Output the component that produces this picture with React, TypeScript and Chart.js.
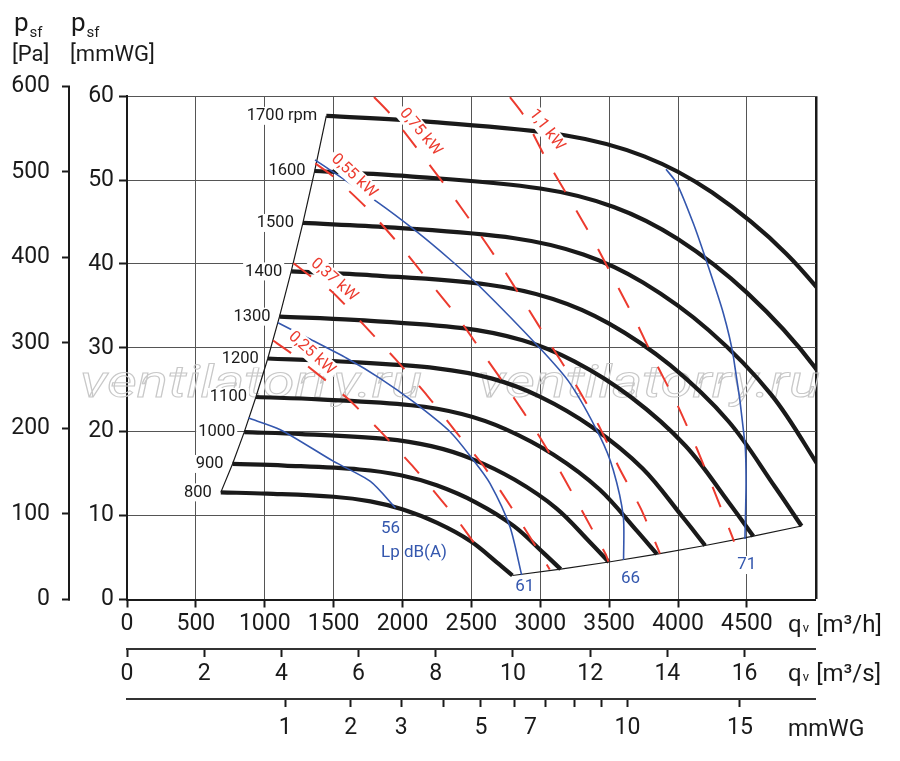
import { useEffect, useRef } from 'react'
import { Chart, registerables } from 'chart.js'

Chart.register(...registerables)

const FONT = 'Roboto, "DejaVu Sans", sans-serif'
const INK = '#1a1a1a'
const GRID = '#555555'
const RED = '#ec3b2f'
const BLUE = '#3457ae'

const PA_PER_MMWG = 9.80665
const M3H_PER_UNIT = 280.2 // second flow scale, one unit in m3/h
const DYN_M3H = 1149 // m3/h per sqrt(mmWG) on the dynamic pressure scale

// fan speed curves: q in m3/h, p in mmWG
const rpmLabels = ['800', '900', '1000', '1100', '1200', '1300', '1400', '1500', '1600', '1700 rpm']
const speedQ = [
  [681, 1016, 1500, 1767, 1998, 2252, 2495, 2689, 2798],
  [766, 1143, 1688, 1988, 2248, 2534, 2807, 3025, 3148],
  [851, 1270, 1875, 2209, 2498, 2815, 3119, 3361, 3498],
  [936, 1397, 2063, 2430, 2747, 3097, 3431, 3697, 3847],
  [1022, 1524, 2250, 2651, 2997, 3378, 3743, 4034, 4197],
  [1107, 1651, 2438, 2871, 3247, 3660, 4054, 4370, 4547],
  [1192, 1778, 2625, 3092, 3497, 3941, 4366, 4706, 4897],
  [1277, 1905, 2813, 3313, 3746, 4223, 4678, 5042],
  [1362, 2032, 3000, 3534, 3996, 4504, 4990, 5378],
  [1447, 2159, 3188, 3755, 4246, 4786, 5302],
]
const speedP = [
  [12.77, 12.62, 12.25, 11.7, 10.75, 9.13, 6.94, 4.37, 2.86],
  [16.16, 15.97, 15.5, 14.81, 13.61, 11.56, 8.78, 5.53, 3.62],
  [19.95, 19.72, 19.14, 18.28, 16.8, 14.27, 10.84, 6.83, 4.47],
  [24.14, 23.86, 23.16, 22.12, 20.32, 17.26, 13.12, 8.26, 5.41],
  [28.73, 28.4, 27.56, 26.33, 24.19, 20.54, 15.62, 9.83, 6.44],
  [33.72, 33.33, 32.35, 30.9, 28.39, 24.11, 18.33, 11.54, 7.55],
  [39.11, 38.65, 37.52, 35.83, 32.92, 27.96, 21.25, 13.38, 8.76],
  [44.89, 44.37, 43.07, 41.13, 37.79, 32.1, 24.4, 15.36],
  [51.08, 50.48, 49.0, 46.8, 43.0, 36.52, 27.76, 17.48],
  [57.66, 56.99, 55.32, 52.83, 48.54, 41.23, 31.34],
]
const lowerEdgeCount = 7 // curves 800..1400 end on the lower boundary

// shaft power lines
const powerLabels = ['0,25 kW', '0,37 kW', '0,55 kW', '0,75 kW', '1,1 kW']
const powerQ = [
  [1060, 1191, 1598, 1840, 2071, 2289, 2393, 2538],
  [1209, 1336, 1489, 1719, 1949, 2175, 2385, 2591, 2785, 2967, 3069],
  [1367, 1500, 1743, 1973, 2184, 2398, 2591, 2785, 2975, 3149, 3314, 3476, 3495],
  [1793, 1908, 2119, 2325, 2524, 2713, 2895, 3076, 3258, 3428, 3573, 3731, 3869],
  [2780, 2871, 3040, 3210, 3380, 3537, 3695, 3840, 3998, 4138, 4264, 4391, 4407],
]
const powerP = [
  [30.87, 29.37, 24.01, 20.04, 15.95, 11.7, 9.61, 6.31],
  [40.08, 38.49, 36.7, 32.74, 28.65, 24.4, 20.04, 15.87, 11.11, 6.35, 3.57],
  [51.99, 50.39, 46.63, 42.38, 38.1, 33.73, 29.17, 24.61, 19.92, 15.15, 10.24, 5.36, 4.52],
  [59.9, 57.94, 53.49, 49.01, 44.44, 39.88, 35.12, 30.36, 25.6, 20.63, 15.68, 10.8, 5.48],
  [59.9, 57.94, 52.58, 47.82, 43.0, 38.1, 33.13, 28.18, 23.1, 17.94, 12.89, 7.62, 6.9],
]
const powerLabelQ = [1341, 1503, 1648, 2131, 3047]
const powerLabelP = [29.35, 38.09, 50.49, 55.73, 55.97]
const powerLabelTilt = [42, 41, 43, 50, 52]

// sound pressure lines Lp dB(A)
const soundLabels = ['56', '61', '66', '71']
const soundQ = [
  [882, 1113, 1500, 1767, 1949],
  [1096, 1316, 1595, 1837, 2078, 2345, 2514, 2635, 2780, 2865],
  [1365, 1813, 2103, 2345, 2563, 2998, 3216, 3434, 3530, 3603, 3605],
  [3913, 3991, 4111, 4208, 4329, 4402, 4486, 4494, 4486],
]
const soundP = [
  [21.63, 20.24, 16.46, 14.08, 10.92],
  [33.0, 31.14, 28.76, 26.37, 23.58, 20.0, 16.63, 13.85, 8.68, 2.92],
  [52.41, 47.43, 43.85, 40.53, 37.29, 29.95, 25.77, 19.41, 15.44, 9.87, 4.71],
  [51.29, 49.62, 44.85, 40.27, 34.12, 28.95, 18.62, 13.85, 7.21],
]
const soundLabelQ = [1844, 2887, 3655, 4499]
const soundLabelP = [8.49, 1.53, 2.53, 4.11]

// axis ticks
const paTicks = [0, 100, 200, 300, 400, 500, 600]
const dynTicks = [1, 2, 3, 4, 5, 6, 6.5, 7, 8, 9, 10, 15]
const dynLabels = ['1', '2', '3', '', '5', '', '7', '', '', '', '10', '15']

const tickFont = { family: FONT, size: 23 }

function subText(ctx: CanvasRenderingContext2D, x: number, y: number, main: string, sub: string, rest: string, size: number, subSize: number, subDrop: number) {
  ctx.font = `${size}px ${FONT}`
  ctx.fillText(main, x, y)
  let cx = x + ctx.measureText(main).width + 1
  ctx.font = `${subSize}px ${FONT}`
  ctx.fillText(sub, cx, y + subDrop)
  cx += ctx.measureText(sub).width
  if (rest) {
    ctx.font = `${size}px ${FONT}`
    ctx.fillText(rest, cx + size * 0.3, y)
  }
}

const overlay = {
  id: 'overlay',
  beforeDatasetsDraw(chart: any) {
    const { ctx } = chart
    ctx.save()
    ctx.strokeStyle = '#c8c8c8'
    ctx.lineWidth = 1
    ctx.font = `italic 45px ${FONT}`
    const text = 'ventilatorry.ru'
    const w = ctx.measureText(text).width
    for (const left of [80, 478]) {
      ctx.save()
      ctx.translate(left, 397)
      ctx.scale(342 / w, 1)
      ctx.strokeText(text, 0, 0)
      ctx.restore()
    }
    ctx.restore()
  },
  afterDatasetsDraw(chart: any) {
    const { ctx } = chart
    const { x, y } = chart.scales
    ctx.save()
    ctx.textBaseline = 'middle'

    ctx.font = `16.5px ${FONT}`
    rpmLabels.forEach((label, i) => {
      const px = x.getPixelForValue(speedQ[i][0]) - 9
      const py = y.getPixelForValue(speedP[i][0])
      const w = ctx.measureText(label).width
      ctx.fillStyle = '#fff'
      ctx.fillRect(px - w - 2, py - 9, w + 4, 18)
      ctx.fillStyle = INK
      ctx.textAlign = 'right'
      ctx.fillText(label, px, py)
    })

    ctx.font = `16px ${FONT}`
    powerLabels.forEach((label, i) => {
      const px = x.getPixelForValue(powerLabelQ[i])
      const py = y.getPixelForValue(powerLabelP[i])
      const w = ctx.measureText(label).width
      ctx.save()
      ctx.translate(px, py)
      ctx.rotate((powerLabelTilt[i] * Math.PI) / 180)
      ctx.fillStyle = '#fff'
      ctx.fillRect(-w / 2 - 3, -9, w + 6, 18)
      ctx.fillStyle = RED
      ctx.textAlign = 'center'
      ctx.fillText(label, 0, 0)
      ctx.restore()
    })

    ctx.font = `17px ${FONT}`
    soundLabels.forEach((label, i) => {
      const px = x.getPixelForValue(soundLabelQ[i])
      const py = y.getPixelForValue(soundLabelP[i])
      ctx.fillStyle = BLUE
      if (i === 0) {
        ctx.textAlign = 'left'
        ctx.fillText(label, px, py)
        ctx.fillText('Lp dB(A)', px, py + 24.5)
      } else {
        const w = ctx.measureText(label).width
        ctx.fillStyle = '#fff'
        ctx.fillRect(px - w / 2 - 2, py - 9, w + 4, 18)
        ctx.fillStyle = BLUE
        ctx.textAlign = 'center'
        ctx.fillText(label, px, py)
      }
    })
    ctx.restore()
  },
  afterDraw(chart: any) {
    const { ctx } = chart
    const pa = chart.scales.yPa
    ctx.save()
    // pressure axis in Pa reaches 600 Pa, above the plot
    ctx.strokeStyle = INK
    ctx.lineWidth = 2
    ctx.beginPath()
    ctx.moveTo(pa.right - 1, pa.getPixelForValue(600))
    ctx.lineTo(pa.right - 1, pa.getPixelForValue(0) + 1)
    ctx.stroke()

    ctx.fillStyle = INK
    ctx.textAlign = 'left'
    ctx.textBaseline = 'alphabetic'
    subText(ctx, 14, 31, 'p', 'sf', '', 26, 15, 6)
    subText(ctx, 71, 31, 'p', 'sf', '', 26, 15, 6)
    ctx.font = `22px ${FONT}`
    ctx.fillText('[Pa]', 12, 61)
    ctx.fillText('[mmWG]', 70, 61)

    subText(ctx, 788, 632, 'q', 'v', '[m³/h]', 24, 13, 0)
    subText(ctx, 788, 681, 'q', 'v', '[m³/s]', 24, 13, 0)
    ctx.font = `23px ${FONT}`
    ctx.fillText('mmWG', 788, 736)
    ctx.restore()
  },
}

export default function App() {
  const canvasRef = useRef<HTMLCanvasElement | null>(null)

  useEffect(() => {
    document.body.style.margin = '0'
    if (!canvasRef.current) return

    const datasets: any[] = []
    powerQ.forEach((qs, i) => {
      datasets.push({
        data: qs.map((q, j) => ({ x: q, y: powerP[i][j] })),
        borderColor: RED,
        borderWidth: 2,
        borderDash: [22, 22],
        tension: 0.2,
        order: 1,
      })
    })
    soundQ.forEach((qs, i) => {
      datasets.push({
        data: qs.map((q, j) => ({ x: q, y: soundP[i][j] })),
        borderColor: BLUE,
        borderWidth: 1.6,
        tension: 0.25,
        order: 2,
      })
    })
    speedQ.forEach((qs, i) => {
      datasets.push({
        data: qs.map((q, j) => ({ x: q, y: speedP[i][j] })),
        borderColor: INK,
        borderWidth: 4.2,
        tension: 0.35,
        order: 3,
      })
    })
    // left and lower limits of the working field
    datasets.push({
      data: speedQ.map((qs, i) => ({ x: qs[0], y: speedP[i][0] })),
      borderColor: INK,
      borderWidth: 1.2,
      tension: 0,
      order: 4,
    })
    datasets.push({
      data: speedQ.slice(0, lowerEdgeCount).map((qs, i) => ({ x: qs[qs.length - 1], y: speedP[i][qs.length - 1] })),
      borderColor: INK,
      borderWidth: 1.2,
      tension: 0,
      order: 4,
    })

    const chart = new Chart(canvasRef.current, {
      type: 'line',
      data: { datasets },
      plugins: [overlay],
      options: {
        animation: false,
        responsive: true,
        maintainAspectRatio: false,
        events: [],
        elements: { point: { radius: 0 }, line: { fill: false, borderCapStyle: 'butt' } },
        layout: { padding: { left: 0, top: 96.2, right: 84.25, bottom: 18 } },
        plugins: { legend: { display: false }, tooltip: { enabled: false } },
        scales: {
          x: {
            type: 'linear',
            position: 'bottom',
            min: 0,
            max: 5000,
            ticks: {
              stepSize: 500,
              autoSkip: false,
              maxRotation: 0,
              padding: 3,
              color: INK,
              font: tickFont,
              callback: (v: any) => (v === 5000 ? '' : String(v)),
            },
            grid: {
              color: (c: any) => (c.tick && c.tick.value === 5000 ? INK : GRID),
              lineWidth: (c: any) => (c.tick && c.tick.value === 5000 ? 2.5 : 1),
              tickLength: 8,
              tickWidth: 2,
              tickColor: (c: any) => (c.tick && c.tick.value === 5000 ? 'rgba(0,0,0,0)' : INK),
            },
            border: { color: INK, width: 2 },
            afterFit: (s: any) => {
              s.height = 49.5
            },
          },
          x2: {
            type: 'linear',
            position: 'bottom',
            weight: 1,
            min: 0,
            max: 5000 / M3H_PER_UNIT,
            ticks: {
              stepSize: 2,
              includeBounds: false,
              autoSkip: false,
              maxRotation: 0,
              padding: 3,
              color: INK,
              font: tickFont,
            },
            grid: { drawOnChartArea: false, tickLength: 8, tickWidth: 2, tickColor: INK },
            border: { color: '#333', width: 2 },
            afterFit: (s: any) => {
              s.height = 50
            },
          },
          x3: {
            type: 'linear',
            position: 'bottom',
            weight: 2,
            min: 0,
            max: 5000,
            afterBuildTicks: (s: any) => {
              s.ticks = dynTicks.map((p) => ({ value: DYN_M3H * Math.sqrt(p) }))
            },
            ticks: {
              autoSkip: false,
              maxRotation: 0,
              padding: 7,
              color: INK,
              font: tickFont,
              callback: (_v: any, i: number) => dynLabels[i],
            },
            grid: {
              drawOnChartArea: false,
              tickLength: 8,
              tickWidth: 2,
              tickColor: (c: any) => (Number.isInteger(dynTicks[c.index]) ? INK : 'rgba(0,0,0,0)'),
            },
            border: { color: '#333', width: 2 },
            afterFit: (s: any) => {
              s.height = 44
            },
          },
          y: {
            type: 'linear',
            position: 'left',
            min: 0,
            max: 60,
            ticks: { stepSize: 10, padding: 5, color: INK, font: tickFont },
            grid: { color: GRID, lineWidth: 1, tickLength: 8, tickWidth: 2, tickColor: INK },
            border: { color: INK, width: 2 },
            afterFit: (s: any) => {
              s.width = 57
            },
          },
          yPa: {
            type: 'linear',
            position: 'left',
            weight: 1,
            min: 0,
            max: 60 * PA_PER_MMWG,
            afterBuildTicks: (s: any) => {
              s.ticks = paTicks.map((v) => ({ value: v }))
            },
            ticks: { autoSkip: false, padding: 12, color: INK, font: tickFont },
            grid: { drawOnChartArea: false, tickLength: 8, tickWidth: 2, tickColor: INK },
            border: { display: false },
            afterFit: (s: any) => {
              s.width = 70
            },
          },
        },
      } as any,
    })

    return () => chart.destroy()
  }, [])

  return (
    <div style={{ position: 'relative', width: 900, height: 761 }}>
      <canvas ref={canvasRef} />
    </div>
  )
}
